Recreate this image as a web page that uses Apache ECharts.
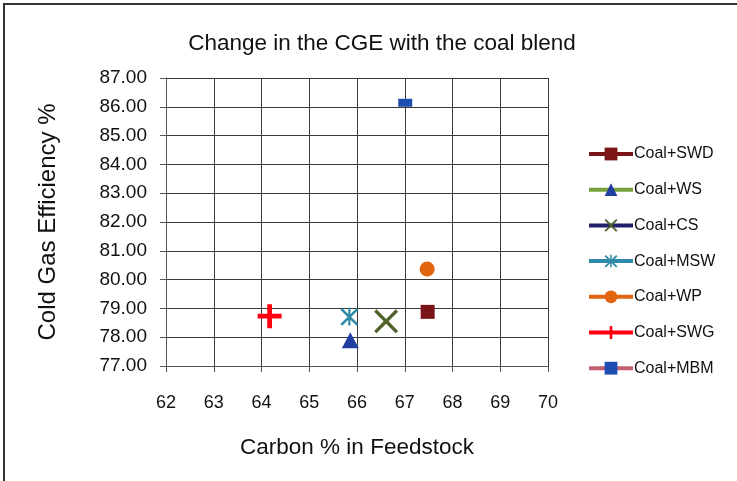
<!DOCTYPE html>
<html><head><meta charset="utf-8">
<script src="https://cdn.jsdelivr.net/npm/echarts@6/dist/echarts.min.js"></script>
<style>html,body{margin:0;padding:0;background:#fff}#c{width:737px;height:481px}</style>
</head><body><div id="c"></div>
<script>
var seriesNames = ['Coal+SWD','Coal+WS','Coal+CS','Coal+MSW','Coal+WP','Coal+SWG','Coal+MBM'];
var carbonPct = [67.48, 65.86, 66.61, 65.84, 67.47, 64.17, 67.01];
var cge = [78.88, 77.89, 78.55, 78.71, 80.37, 78.73, 86.14];
var xTicks = [62, 63, 64, 65, 66, 67, 68, 69, 70];
var yTicks = [77, 78, 79, 80, 81, 82, 83, 84, 85, 86, 87];

var styles = [
  {sym:'rect', size:[14,14], color:'#7b1416', line:'#7b1416'},
  {sym:'triangle', size:[17,16], color:'#1f3ea0', line:'#77a03a'},
  {sym:'path://M0,1L1,0L5,4L9,0L10,1L6,5L10,9L9,10L5,6L1,10L0,9L4,5Z', size:[24,24], color:'#4f6228', line:'#1f1f6a'},
  {sym:'path://M4.4,0H5.6V10H4.4Z M0,1.2L1,0.2L5,4.2L9,0.2L10,1.2L6,5.2L10,9.2L9,10.2L5,6.2L1,10.2L0,9.2L4,5.2Z', size:[18,18], color:'#2e8aa8', line:'#2e8aa8'},
  {sym:'circle', size:[15,15], color:'#e0650e', line:'#e0650e'},
  {sym:'path://M4,0H6V4H10V6H6V10H4V6H0V4H4Z', size:[24,24], color:'#ff0010', line:'#ff0010'},
  {sym:'rect', size:[14,8], color:'#1f4eb0', line:'#c06070'}
];

var series = seriesNames.map(function(n,i){
  return {
    name:n, type:'line', data:[[carbonPct[i], cge[i]]],
    symbol:styles[i].sym, symbolSize:styles[i].size,
    itemStyle:{color:styles[i].color},
    lineStyle:{color:styles[i].line, width:4},
    z:3
  };
});

var chart = echarts.init(document.getElementById('c'));
chart.setOption({
  animation:false,
  backgroundColor:'#fff',
  title:{text:'Change in the CGE with the coal blend', left:377, top:27, textAlign:'center',
    textStyle:{fontFamily:'Liberation Sans', fontSize:22.5, fontWeight:'normal', color:'#111'}},
  grid:{left:166, right:189, top:78, bottom:115},
  xAxis:{type:'value', min:xTicks[0], max:xTicks[xTicks.length-1], interval:1,
    name:'Carbon % in Feedstock', nameLocation:'middle', nameGap:70,
    nameTextStyle:{fontFamily:'Liberation Sans', fontSize:22.5, color:'#111'},
    axisLine:{show:true, lineStyle:{color:'#555'}},
    axisTick:{show:true, length:6, lineStyle:{color:'#555'}},
    axisLabel:{fontFamily:'Liberation Sans', fontSize:18, color:'#111', margin:28},
    splitLine:{show:true, lineStyle:{color:'#3a3a3a', width:1}}},
  yAxis:{type:'value', min:yTicks[0], max:yTicks[yTicks.length-1], interval:1,
    name:'Cold Gas Efficiency %', nameLocation:'middle', nameGap:106,
    nameTextStyle:{fontFamily:'Liberation Sans', fontSize:24, color:'#111'},
    axisLine:{show:true, lineStyle:{color:'#555'}},
    axisTick:{show:true, length:6, lineStyle:{color:'#555'}},
    axisLabel:{fontFamily:'Liberation Sans', fontSize:19, color:'#111', margin:19,
      formatter:function(v){return v.toFixed(2);}},
    splitLine:{show:true, lineStyle:{color:'#3a3a3a', width:1}}},
  legend:{orient:'vertical', left:582, top:141, itemWidth:44, itemHeight:16, itemGap:19.7,
    lineStyle:{width:4},
    textStyle:{fontFamily:'Liberation Sans', fontSize:16, color:'#111', padding:[0,0,0,-4]},
    data:seriesNames},
  graphic:[{type:'rect', shape:{x:4, y:4, width:740, height:490}, style:{fill:null, stroke:'#333', lineWidth:2}, silent:true}],
  series:series
});
</script></body></html>
